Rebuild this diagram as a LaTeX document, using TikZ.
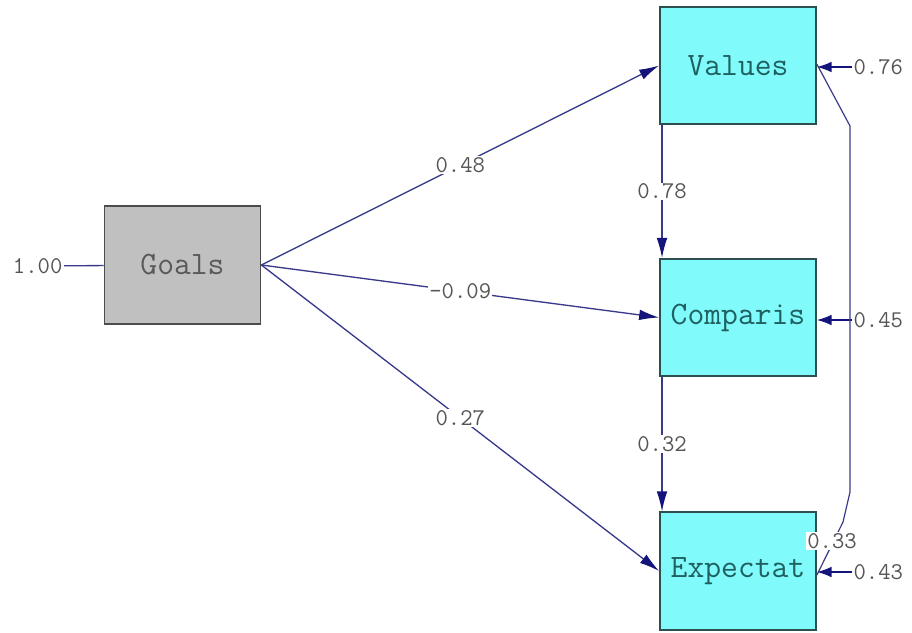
\documentclass[tikz,border=0pt]{standalone}
\usetikzlibrary{arrows.meta}
\definecolor{boxcyan}{HTML}{80FAFA}
\definecolor{boxgray}{HTML}{C0C0C0}
\definecolor{edgeline}{HTML}{3A3A8C}
\definecolor{tipcol}{HTML}{14147A}
\definecolor{framecol}{HTML}{2E4F4F}
\definecolor{vartext}{HTML}{1F6060}
\definecolor{numtext}{HTML}{555555}
\tikzset{
  varbox/.style={draw=framecol, line width=1.3pt, fill=boxcyan, minimum width=117pt,
    minimum height=88pt, inner sep=0pt, text=vartext, font=\ttfamily\fontsize{24.5}{24.5}\selectfont},
  exobox/.style={varbox, draw=black!70, fill=boxgray, text=black!65},
  num/.style={font=\ttfamily\fontsize{18}{18}\selectfont, text=numtext, inner sep=1pt},
  numbg/.style={num, fill=white},
  path/.style={draw=edgeline, line width=1pt,
    -{Latex[length=15pt,width=8pt,color=tipcol]}},
  errpath/.style={draw=tipcol, line width=1.1pt,
    -{Latex[length=11pt,width=8pt,color=tipcol]}},
  covline/.style={draw=edgeline, line width=0.9pt}
}
\begin{document}
\begin{tikzpicture}[x=0.75pt,y=-0.75pt]
\useasboundingbox (0,0) rectangle (912,632);

% variables
\node[exobox] (goals) at (182.5,265) {Goals};
\node[varbox] (values) at (738,65.5) {Values};
\node[varbox] (comp) at (738,317.5) {Comparis};
\node[varbox] (expe) at (738,571) {Expectat};

% Goals variance
\node[num, anchor=east] (gvar) at (64,266) {1.00};
\draw[covline, line width=1pt] (gvar) -- (goals);

% paths from Goals
\path[path] (goals.east) -- (values.west)
  node[numbg, pos=0.5] {0.48};
\path[path] (goals.east) -- (comp.west)
  node[numbg, pos=0.5] {-0.09};
\path[path] (goals.east) -- (expe.west)
  node[numbg, pos=0.5] {0.27};

% chain Values -> Comparis -> Expectat
\path[path] ([xshift=-57pt]values.south) -- ([xshift=-57pt]comp.north)
  node[numbg, pos=0.5] {0.78};
\path[path] ([xshift=-57pt]comp.south) -- ([xshift=-57pt]expe.north)
  node[numbg, pos=0.5] {0.32};

% residual variances
\node[num, anchor=west] (r1) at (852,67) {0.76};
\node[num, anchor=west] (r2) at (852,320) {0.45};
\node[num, anchor=west] (r3) at (852,572) {0.43};
\path[errpath] (r1.west) -- (values.east |- r1.west);
\path[errpath] (r2.west) -- (comp.east |- r2.west);
\path[errpath] (r3.west) -- (expe.east |- r3.west);

% residual covariance Values -- Expectat
\coordinate (k1) at (850,126);
\coordinate (k2) at (850,492);
\coordinate (k3) at (843,522);
\draw[covline] ([yshift=1pt]values.east) -- (k1) -- (k2) -- (k3) -- ([yshift=-3pt]expe.east);
\node[numbg] (cv) at (832,541) {0.33};
\end{tikzpicture}
\end{document}
